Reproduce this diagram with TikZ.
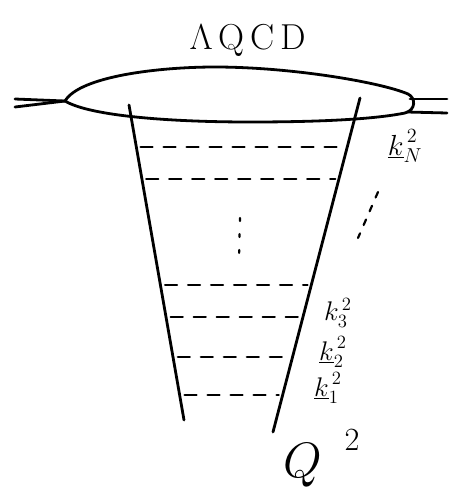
\documentclass[tikz,border=0pt]{standalone}
\usepackage{graphicx}
\usetikzlibrary{calc}
\begin{document}
\begin{tikzpicture}[x=1pt,y=-1pt,line width=2.8pt,line cap=round,
  rung/.style={line width=2.2pt,dash pattern=on 12pt off 11pt},
  dotsline/.style={line width=2.2pt,dash pattern=on 3pt off 13pt},
  lab/.style={inner sep=0pt,font=\huge}]
\useasboundingbox (0,0) rectangle (467,498);
% blob
\coordinate (bl) at (65,101);
\coordinate (br) at (413,104);
\draw (bl) .. controls (80,76) and (160,67) .. (215,67)
           .. controls (290,67) and (380,82) .. (408,94)
           .. controls (416,98) and (416,110) .. (405,113)
           .. controls (370,120) and (310,122) .. (250,122)
           .. controls (170,122) and (90,116) .. (bl);
\node[inner sep=0pt,font=\Huge] (lqcd) at (248,40) {\scalebox{1.45}{$\Lambda$\,Q\,C\,D}};
% tails
\coordinate (tl1) at (15,99); \coordinate (tl2) at (15,107);
\draw (tl1) -- (bl); \draw (tl2) -- (bl);
\coordinate (tr1) at (447,99); \coordinate (tr2) at (447,113);
\draw (tr1) -- (410,99); \draw (tr2) -- (407,112);
% ladder sides
\coordinate (lt) at (129,105); \coordinate (lb) at (184,420);
\coordinate (rt) at (360,98); \coordinate (rb) at (273,432);
\draw (lt) -- (lb);
\draw (rt) -- (rb);
% rungs
\foreach \yy [count=\i] in {147,179,285,317,357,395}{
  \coordinate (a\i) at ({134+0.1774*(\yy-110)},\yy);
  \coordinate (b\i) at ({356-0.262*(\yy-100)},\yy);
  \draw[rung] (a\i) -- (b\i);
}
% middle dots
\coordinate (m1) at (240,218); \coordinate (m2) at (239,258);
\draw[dotsline] (m1) -- (m2);
% right dots
\coordinate (d1) at (378,192); \coordinate (d2) at (358,238);
\draw[line width=2.2pt,dash pattern=on 6pt off 9pt] (d1) -- (d2);
% labels
\node[lab] (kN) at (405,146) {\scalebox{1.4}{$\underline{k}_N^{\,2}$}};
\node[lab] (k3) at (338,313) {\scalebox{1.3}{$k_3^{\,2}$}};
\node[lab] (k2) at (333,352) {\scalebox{1.3}{$\underline{k}_2^{\,2}$}};
\node[lab] (k1) at (328,388) {\scalebox{1.3}{$\underline{k}_1^{\,2}$}};
\node[inner sep=0pt,font=\Huge] (Q) at (303,465) {\scalebox{2}{$Q$}};
\node[inner sep=0pt,font=\Huge] (Q2) at (352,440) {\scalebox{1.3}{$2$}};
\end{tikzpicture}
\end{document}
